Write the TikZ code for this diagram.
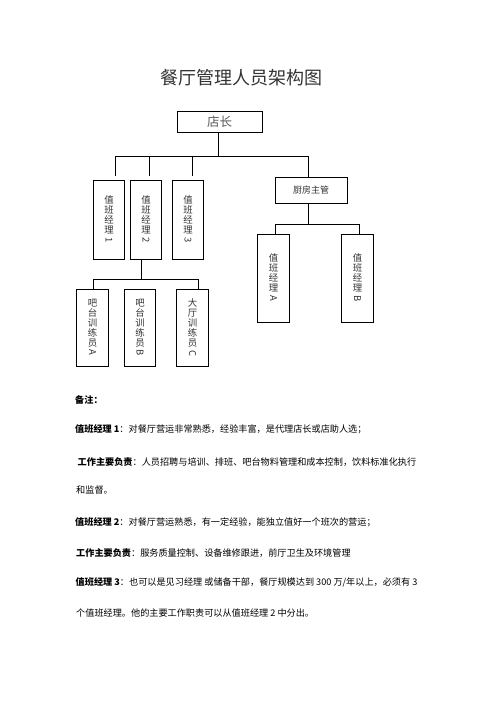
\documentclass[tikz,border=0pt]{standalone}
\usepackage{fontspec}
\usepackage{graphicx}
\setmainfont{Noto Sans CJK SC}
\newcommand{\rlat}[1]{\rotatebox[origin=c]{-90}{#1}}
\newcommand{\vfont}{\fontsize{9.4}{10}\selectfont\lineskiplimit=-20pt\relax\lineskip=0pt\relax}
\definecolor{titlegray}{HTML}{333333}
\definecolor{boxtext}{HTML}{333333}
\tikzset{
  box/.style={draw, line width=0.8pt, inner sep=0pt, text=boxtext},
  vbox/.style={box, align=center, minimum width=31.5pt, font=\vfont},
  conn/.style={line width=0.8pt},
  gap/.style={conn, shorten >=4pt},
  note/.style={anchor=base west, inner sep=0pt, font=\fontsize{9.15}{11}\selectfont, text=black}
}
\begin{document}
\begin{tikzpicture}[x=1pt,y=-1pt]
\useasboundingbox (0,0) rectangle (496,702);
% title
\node[text=titlegray, font=\fontsize{18}{20}\selectfont, inner sep=0pt] (title) at (241,77.5) {餐厅管理人员架构图};
% top box
\node[box, minimum width=85pt, minimum height=21pt, font=\fontsize{12.5}{14}\selectfont, text=black!65] (dz) at (219.5,121.5) {店长};
% managers
\node[vbox, minimum height=79pt] (m1) at (109,219.5) {值\\班\\经\\理\\\rlat{1}};
\node[vbox, minimum height=79pt] (m2) at (146,219.5) {值\\班\\经\\理\\\rlat{2}};
\node[vbox, minimum height=79pt] (m3) at (188,219.5) {值\\班\\经\\理\\\rlat{3}};
% kitchen
\node[box, minimum width=72pt, minimum height=26pt, font=\fontsize{9}{10}\selectfont] (cf) at (311,190) {厨房主管};
\node[vbox, minimum height=88pt] (ka) at (273.5,278) {值\\班\\经\\理\\\rlat{A}};
\node[vbox, minimum height=88pt] (kb) at (357.5,278) {值\\班\\经\\理\\\rlat{B}};
% trainees
\node[vbox, minimum height=77pt] (ta) at (92.5,327.5) {吧\\台\\训\\练\\员\\\rlat{A}};
\node[vbox, minimum height=77pt] (tb) at (140,327.5) {吧\\台\\训\\练\\员\\\rlat{B}};
\node[vbox, minimum height=77pt] (tc) at (192.5,327.5) {大\\厅\\训\\练\\员\\\rlat{C}};
% bus coordinates
\coordinate (j0) at (218.5,156);
\coordinate (b1) at (115,156);
\coordinate (b2) at (149,156);
\coordinate (b3) at (192,156);
\coordinate (b4) at (308,156);
\coordinate (k0) at (308,224);
\coordinate (k1) at (275,224);
\coordinate (k2) at (359,224);
\coordinate (t0) at (141,279);
\coordinate (t1) at (93,279);
\coordinate (t2) at (198,279);
% connectors
\draw[conn] (dz.south -| j0) -- (j0);
\draw[conn] (b1) -- (b4);
\draw[gap] (b1) -- (b1 |- m1.north);
\draw[gap] (b2) -- (b2 |- m2.north);
\draw[gap] (b3) -- (b3 |- m3.north);
\draw[conn] (b4) -- (b4 |- cf.north);
\draw[conn] (cf.south -| k0) -- (k0);
\draw[conn] (k1) -- (k2);
\draw[conn] (k1) -- (k1 |- ka.north);
\draw[conn] (k2) -- (k2 |- kb.north);
\draw[conn] (m2.south -| t0) -- (t0);
\draw[conn] (t1) -- (t2);
\draw[conn] (t1) -- (t1 |- ta.north);
\draw[conn] (t2) -- (t2 |- tc.north);
% notes
\node[note] (n0) at (75,403.5) {\bfseries 备注：};
\node[note] (n1) at (75,432.5) {{\bfseries 值班经理 1}：对餐厅营运非常熟悉，经验丰富，是代理店长或店助人选；};
\node[note] (n2) at (77.5,465.5) {{\bfseries 工作主要负责}：人员招聘与培训、排班、吧台物料管理和成本控制，饮料标准化执行};
\node[note] (n3) at (76,493.5) {和监督。};
\node[note] (n4) at (75,525.5) {{\bfseries 值班经理 2}：对餐厅营运熟悉，有一定经验，能独立值好一个班次的营运；};
\node[note] (n5) at (76,556.5) {{\bfseries 工作主要负责}：服务质量控制、设备维修跟进，前厅卫生及环境管理};
\node[note] (n6) at (75.5,585.5) {{\bfseries 值班经理 3}：也可以是见习经理 或储备干部，餐厅规模达到 300 万/年以上，必须有 3};
\node[note] (n7) at (76,616.5) {个值班经理。他的主要工作职责可以从值班经理 2 中分出。};
\end{tikzpicture}
\end{document}
